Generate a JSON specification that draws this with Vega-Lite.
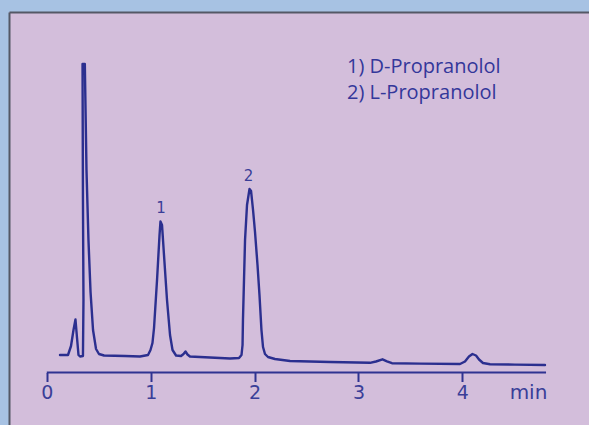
{
  "$schema": "https://vega.github.io/schema/vega-lite/v6.json",
  "autosize": "none",
  "width": 580,
  "height": 413,
  "padding": {"left": 9, "top": 12, "right": 0, "bottom": 0},
  "background": "#a7c2e3",
  "config": {
    "view": {"fill": "#d3bedb", "stroke": null}
  },
  "encoding": {
    "x": {
      "field": "t", "type": "quantitative",
      "scale": {"domain": [-0.3638, 5.2185], "nice": false, "zero": false},
      "axis": {
        "orient": "bottom", "offset": -52.5, "domain": false,
        "values": [0, 1, 2, 3, 4], "format": "d",
        "ticks": true, "tickSize": 9, "tickWidth": 2, "tickColor": "#2f3391",
        "grid": false,
        "labelFont": "DejaVu Sans", "labelFontSize": 19, "labelColor": "#3a3e98",
        "labelBaseline": "alphabetic", "labelPadding": 16.5, "labelFlush": false,
        "title": "min", "titleFont": "DejaVu Sans", "titleFontSize": 20,
        "titleFontWeight": "normal", "titleColor": "#3a3e98",
        "titleX": 519, "titleY": 25.5, "titleAlign": "center", "titleBaseline": "alphabetic"
      }
    },
    "y": {
      "field": "s", "type": "quantitative",
      "scale": {"domain": [-52.5, 360.5], "nice": false, "zero": false},
      "axis": {
        "orient": "left", "domain": true, "domainColor": "#545866", "domainWidth": 2,
        "ticks": false, "labels": false, "title": null,
        "grid": true, "values": [360.5], "gridColor": "#545866", "gridWidth": 2
      }
    }
  },
  "layer": [
    {
      "data": {"values": [
        {"i": 1, "t": 0.127, "s": 17.5},
        {"i": 2, "t": 0.204, "s": 17.5},
        {"i": 3, "t": 0.233, "s": 26.5},
        {"i": 4, "t": 0.257, "s": 42.5},
        {"i": 5, "t": 0.276, "s": 53},
        {"i": 6, "t": 0.291, "s": 34.5},
        {"i": 7, "t": 0.305, "s": 17.5},
        {"i": 8, "t": 0.320, "s": 16},
        {"i": 9, "t": 0.348, "s": 16.5},
        {"i": 10, "t": 0.353, "s": 72.5},
        {"i": 11, "t": 0.348, "s": 172.5},
        {"i": 12, "t": 0.344, "s": 308.5},
        {"i": 13, "t": 0.366, "s": 308.5},
        {"i": 14, "t": 0.382, "s": 202.5},
        {"i": 15, "t": 0.401, "s": 132.5},
        {"i": 16, "t": 0.421, "s": 80.5},
        {"i": 17, "t": 0.445, "s": 42.5},
        {"i": 18, "t": 0.474, "s": 23.5},
        {"i": 19, "t": 0.502, "s": 18.5},
        {"i": 20, "t": 0.551, "s": 17},
        {"i": 21, "t": 0.753, "s": 16.5},
        {"i": 22, "t": 0.897, "s": 16},
        {"i": 23, "t": 0.974, "s": 17.5},
        {"i": 24, "t": 0.998, "s": 22.5},
        {"i": 25, "t": 1.017, "s": 29.5},
        {"i": 26, "t": 1.032, "s": 44.5},
        {"i": 27, "t": 1.061, "s": 92.5},
        {"i": 28, "t": 1.085, "s": 137.5},
        {"i": 29, "t": 1.094, "s": 151},
        {"i": 30, "t": 1.109, "s": 147.5},
        {"i": 31, "t": 1.128, "s": 117.5},
        {"i": 32, "t": 1.157, "s": 72.5},
        {"i": 33, "t": 1.186, "s": 37.5},
        {"i": 34, "t": 1.210, "s": 22.5},
        {"i": 35, "t": 1.244, "s": 17},
        {"i": 36, "t": 1.292, "s": 16.5},
        {"i": 37, "t": 1.316, "s": 18.5},
        {"i": 38, "t": 1.335, "s": 21},
        {"i": 39, "t": 1.354, "s": 18},
        {"i": 40, "t": 1.378, "s": 16},
        {"i": 41, "t": 1.571, "s": 15},
        {"i": 42, "t": 1.763, "s": 14},
        {"i": 43, "t": 1.850, "s": 14.5},
        {"i": 44, "t": 1.874, "s": 17.5},
        {"i": 45, "t": 1.884, "s": 27.5},
        {"i": 46, "t": 1.888, "s": 52.5},
        {"i": 47, "t": 1.898, "s": 92.5},
        {"i": 48, "t": 1.908, "s": 132.5},
        {"i": 49, "t": 1.927, "s": 167.5},
        {"i": 50, "t": 1.951, "s": 183.5},
        {"i": 51, "t": 1.966, "s": 181.5},
        {"i": 52, "t": 1.985, "s": 162.5},
        {"i": 53, "t": 2.004, "s": 140.5},
        {"i": 54, "t": 2.028, "s": 107.5},
        {"i": 55, "t": 2.047, "s": 77.5},
        {"i": 56, "t": 2.066, "s": 42.5},
        {"i": 57, "t": 2.081, "s": 25.5},
        {"i": 58, "t": 2.100, "s": 18.5},
        {"i": 59, "t": 2.129, "s": 15.5},
        {"i": 60, "t": 2.196, "s": 13.5},
        {"i": 61, "t": 2.341, "s": 11.5},
        {"i": 62, "t": 2.726, "s": 10.5},
        {"i": 63, "t": 3.111, "s": 9.7},
        {"i": 64, "t": 3.168, "s": 11},
        {"i": 65, "t": 3.231, "s": 13.2},
        {"i": 66, "t": 3.274, "s": 11.2},
        {"i": 67, "t": 3.322, "s": 9.3},
        {"i": 68, "t": 3.592, "s": 8.9},
        {"i": 69, "t": 3.977, "s": 8.5},
        {"i": 70, "t": 4.025, "s": 11},
        {"i": 71, "t": 4.063, "s": 16},
        {"i": 72, "t": 4.097, "s": 18.5},
        {"i": 73, "t": 4.131, "s": 17},
        {"i": 74, "t": 4.160, "s": 13},
        {"i": 75, "t": 4.198, "s": 9.5},
        {"i": 76, "t": 4.266, "s": 8.3},
        {"i": 77, "t": 4.506, "s": 7.9},
        {"i": 78, "t": 4.795, "s": 7.5}
      ]},
      "mark": {"type": "line", "color": "#2b2f8f", "strokeWidth": 2.4, "strokeJoin": "round", "strokeCap": "round"},
      "encoding": {"order": {"field": "i", "type": "quantitative"}}
    },
    {
      "data": {"values": [{"t": 0, "t2": 4.805, "s": 0}]},
      "mark": {"type": "rule", "color": "#2f3391", "strokeWidth": 2.2},
      "encoding": {"x2": {"field": "t2"}}
    },
    {
      "data": {"values": [
        {"t": 1.099, "s": 159.8, "label": "1"},
        {"t": 1.941, "s": 191.8, "label": "2"}
      ]},
      "mark": {"type": "text", "font": "DejaVu Sans", "fontSize": 15, "color": "#3a3e98", "align": "center", "baseline": "alphabetic"},
      "encoding": {"text": {"field": "label"}}
    },
    {
      "data": {"values": [
        {"t": 2.889, "s": 299.5, "label": "1) D-Propranolol\n2) L-Propranolol"}
      ]},
      "mark": {"type": "text", "font": "Open Sans", "fontSize": 20, "lineHeight": 25.5, "lineBreak": "\n", "color": "#33379a", "align": "left", "baseline": "alphabetic"},
      "encoding": {"text": {"field": "label"}}
    }
  ]
}
